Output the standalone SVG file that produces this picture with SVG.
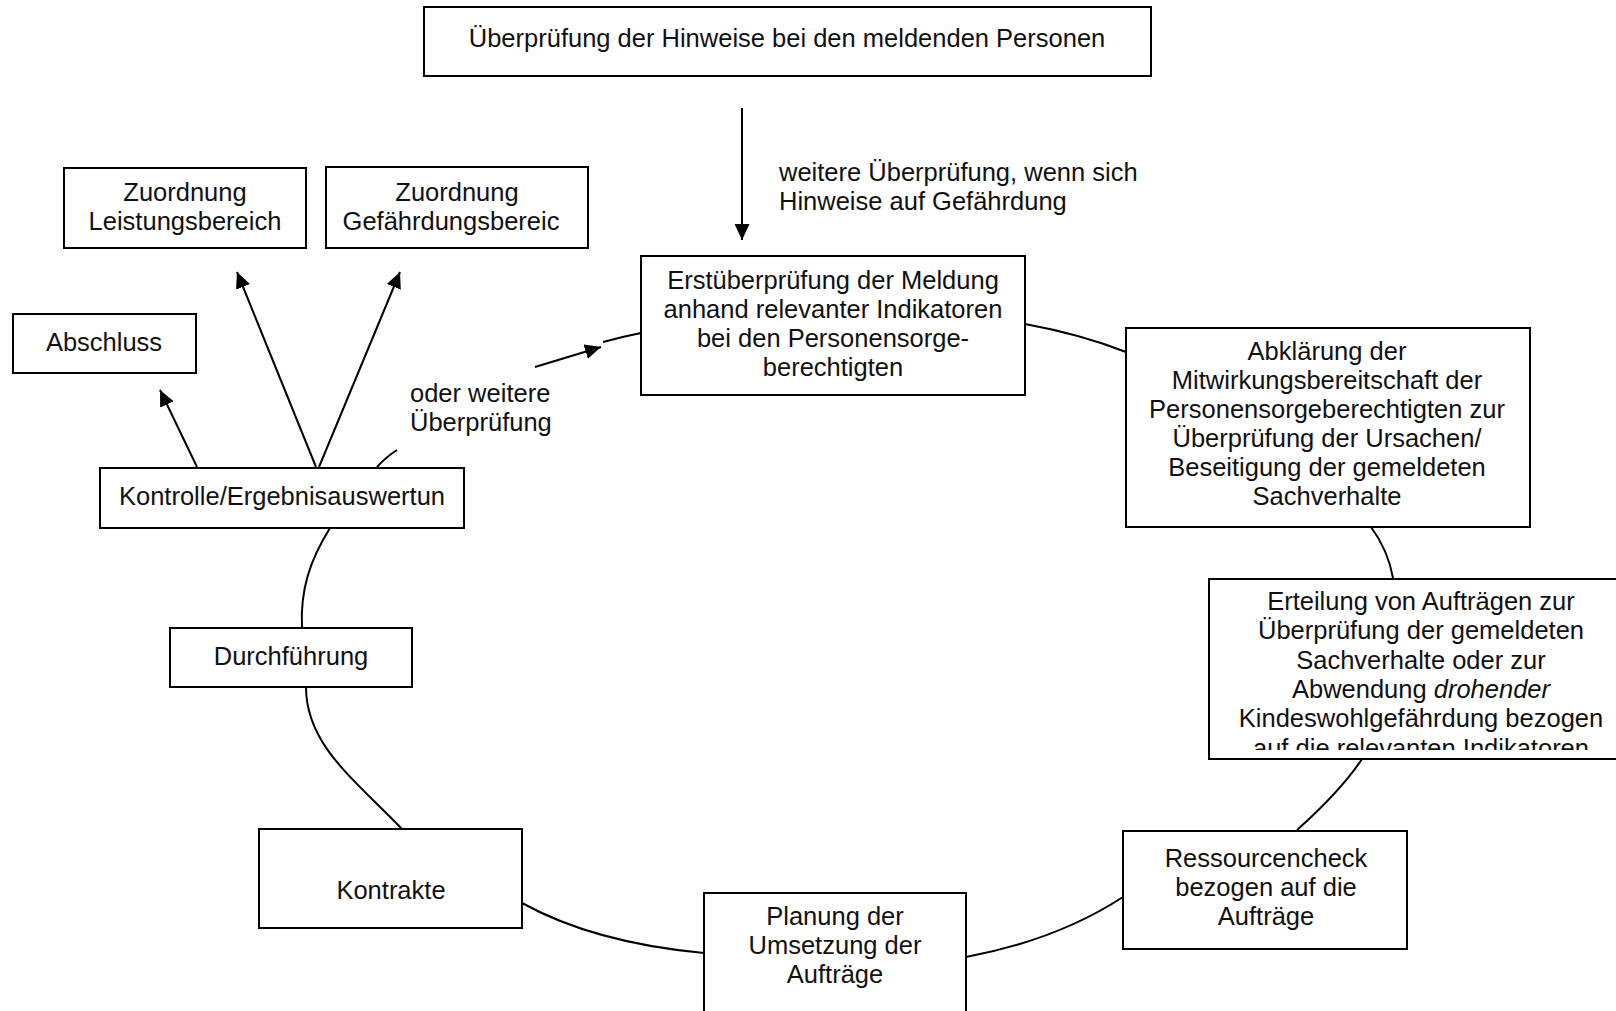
<svg xmlns="http://www.w3.org/2000/svg" width="1616" height="1011" viewBox="0 0 1616 1011">
<style>
.box{fill:#fff;stroke:#000;stroke-width:2}
.t{font-family:"Liberation Sans",Arial,sans-serif;font-size:25.5px;fill:#111}
.c{text-anchor:middle}
.ln{fill:none;stroke:#000;stroke-width:2}
</style>
<defs>
<marker id="ah" markerUnits="userSpaceOnUse" markerWidth="18" markerHeight="16" refX="16" refY="7.5" orient="auto">
<path d="M0,0 L16,7.5 L0,15 Z" fill="#000"/>
</marker>
<clipPath id="clipE"><rect x="1209" y="579" width="420" height="171"/></clipPath>
</defs>
<rect width="1616" height="1011" fill="#fff"/>

<g id="connectors">
<line class="ln" x1="742" y1="108" x2="742" y2="240" marker-end="url(#ah)"/>
<line class="ln" x1="197" y1="467" x2="160" y2="390" marker-end="url(#ah)"/>
<line class="ln" x1="316" y1="467" x2="237" y2="272" marker-end="url(#ah)"/>
<line class="ln" x1="319" y1="467" x2="400" y2="272" marker-end="url(#ah)"/>
<path class="ln" d="M377,467 Q386,457 397,450"/>
<path class="ln" d="M535,367 L601,347" marker-end="url(#ah)"/>
<path class="ln" d="M603,342 Q621,337 641,333"/>
<path class="ln" d="M1025,324 Q1080,334 1126,352"/>
<path class="ln" d="M1371,527 Q1388,550 1393,578"/>
<path class="ln" d="M1362,759 C1348,780 1325,805 1297,830"/>
<path class="ln" d="M1123,897 C1080,925 1030,945 966,957"/>
<path class="ln" d="M704,953 C650,948 580,935 522,903"/>
<path class="ln" d="M402,829 C355,780 306,745 306,687"/>
<path class="ln" d="M302,628 C300,590 310,560 330,528"/>
</g>

<g id="n-top">
<rect class="box" x="424" y="7" width="727" height="69"/>
<text class="t c" x="787" y="47">Überprüfung der Hinweise bei den meldenden Personen</text>
</g>

<g id="lbl-weitere">
<text class="t" x="779" y="181">weitere Überprüfung, wenn sich</text>
<text class="t" x="779" y="210">Hinweise auf Gefährdung</text>
</g>

<g id="n-leistung">
<rect class="box" x="64" y="168" width="242" height="80"/>
<text class="t c" x="185" y="201">Zuordnung</text>
<text class="t c" x="185" y="230">Leistungsbereich</text>
</g>

<g id="n-gefaehrdung">
<rect class="box" x="326" y="167" width="262" height="81"/>
<text class="t c" x="457" y="201">Zuordnung</text>
<text class="t c" x="451" y="230">Gefährdungsbereic</text>
</g>

<g id="n-abschluss">
<rect class="box" x="13" y="314" width="183" height="59"/>
<text class="t c" x="104" y="351">Abschluss</text>
</g>

<g id="lbl-oder">
<text class="t" x="410" y="402">oder weitere</text>
<text class="t" x="410" y="431">Überprüfung</text>
</g>

<g id="n-kontrolle">
<rect class="box" x="100" y="468" width="364" height="60"/>
<text class="t c" x="282" y="505">Kontrolle/Ergebnisauswertun</text>
</g>

<g id="n-erst">
<rect class="box" x="641" y="256" width="384" height="139"/>
<text class="t c" x="833" y="289">Erstüberprüfung der Meldung</text>
<text class="t c" x="833" y="318">anhand relevanter Indikatoren</text>
<text class="t c" x="833" y="347">bei den Personensorge-</text>
<text class="t c" x="833" y="376">berechtigten</text>
</g>

<g id="n-abklaerung">
<rect class="box" x="1126" y="328" width="404" height="199"/>
<text class="t c" x="1327" y="360">Abklärung der</text>
<text class="t c" x="1327" y="389">Mitwirkungsbereitschaft der</text>
<text class="t c" x="1327" y="418">Personensorgeberechtigten zur</text>
<text class="t c" x="1327" y="447">Überprüfung der Ursachen/</text>
<text class="t c" x="1327" y="476">Beseitigung der gemeldeten</text>
<text class="t c" x="1327" y="505">Sachverhalte</text>
</g>

<g id="n-erteilung">
<rect class="box" x="1209" y="579" width="420" height="180"/>
<g clip-path="url(#clipE)">
<text class="t c" x="1421" y="610">Erteilung von Aufträgen zur</text>
<text class="t c" x="1421" y="639">Überprüfung der gemeldeten</text>
<text class="t c" x="1421" y="669">Sachverhalte oder zur</text>
<text class="t c" x="1421" y="698">Abwendung <tspan font-style="italic">drohender</tspan></text>
<text class="t c" x="1421" y="727">Kindeswohlgefährdung bezogen</text>
<text class="t c" x="1421" y="757">auf die relevanten Indikatoren</text>
</g>
</g>

<g id="n-ressourcen">
<rect class="box" x="1123" y="831" width="284" height="118"/>
<text class="t c" x="1266" y="867">Ressourcencheck</text>
<text class="t c" x="1266" y="896">bezogen auf die</text>
<text class="t c" x="1266" y="925">Aufträge</text>
</g>

<g id="n-planung">
<rect class="box" x="704" y="893" width="262" height="130"/>
<text class="t c" x="835" y="925">Planung der</text>
<text class="t c" x="835" y="954">Umsetzung der</text>
<text class="t c" x="835" y="983">Aufträge</text>
</g>

<g id="n-kontrakte">
<rect class="box" x="259" y="829" width="263" height="99"/>
<text class="t c" x="391" y="899">Kontrakte</text>
</g>

<g id="n-durchfuehrung">
<rect class="box" x="170" y="628" width="242" height="59"/>
<text class="t c" x="291" y="665">Durchführung</text>
</g>
</svg>
